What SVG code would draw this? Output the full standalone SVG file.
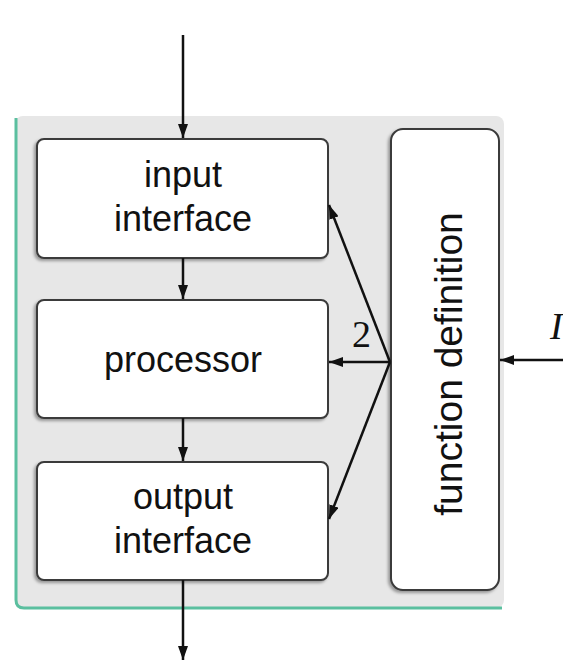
<svg xmlns="http://www.w3.org/2000/svg" width="563" height="662" viewBox="0 0 563 662">
  <defs>
    <marker id="arrow" viewBox="0 0 14 10" refX="14" refY="5" markerWidth="14" markerHeight="10" markerUnits="userSpaceOnUse" orient="auto">
      <path d="M0,0 L14,5 L0,10 Z" fill="#111"/>
    </marker>
    <filter id="shadow" x="-10%" y="-10%" width="120%" height="120%">
      <feDropShadow dx="-2" dy="2" stdDeviation="1.5" flood-color="#000" flood-opacity="0.35"/>
    </filter>
  </defs>
  <style>
    .box { fill: #ffffff; stroke: #3a3a3a; stroke-width: 2; }
    .label { font-family: "Liberation Sans", Arial, sans-serif; font-size: 36px; fill: #111; text-anchor: middle; }
    .conn { stroke: #111; stroke-width: 2.5; fill: none; marker-end: url(#arrow); }
    .num { font-family: "Liberation Serif", "Times New Roman", serif; font-size: 38px; fill: #111; }
  </style>

  <rect width="563" height="662" fill="#ffffff"/>

  <!-- enclosing system panel -->
  <g id="system">
    <rect x="15" y="116" width="489" height="492" rx="8" fill="#e7e7e7"/>
    <path d="M16,118 L16,600 Q16,608 24,608 L502,608" fill="none" stroke="#5bbf9f" stroke-width="3"/>
  </g>

  <g id="input-interface">
    <rect class="box" x="37" y="139" width="291" height="119" rx="7" filter="url(#shadow)"/>
    <text class="label" x="183" y="187">input</text>
    <text class="label" x="183" y="231">interface</text>
  </g>

  <g id="processor">
    <rect class="box" x="37" y="300" width="291" height="118" rx="7" filter="url(#shadow)"/>
    <text class="label" x="183" y="372">processor</text>
  </g>

  <g id="output-interface">
    <rect class="box" x="37" y="462" width="291" height="118" rx="7" filter="url(#shadow)"/>
    <text class="label" x="183" y="509">output</text>
    <text class="label" x="183" y="553">interface</text>
  </g>

  <g id="function-definition">
    <rect class="box" x="391" y="129" width="108" height="461" rx="12" filter="url(#shadow)"/>
    <text class="label" style="font-size:39px" transform="translate(462,364) rotate(-90)">function definition</text>
  </g>

  <g id="connectors">
    <line class="conn" x1="183" y1="35" x2="183" y2="138"/>
    <line class="conn" x1="183" y1="258" x2="183" y2="299"/>
    <line class="conn" x1="183" y1="418" x2="183" y2="461"/>
    <line class="conn" x1="183" y1="580" x2="183" y2="660"/>
    <line class="conn" x1="390" y1="362" x2="329" y2="205"/>
    <line class="conn" x1="390" y1="362" x2="329" y2="362"/>
    <line class="conn" x1="390" y1="362" x2="329" y2="519"/>
    <line class="conn" x1="563" y1="360" x2="500" y2="360"/>
    <text class="num" x="352" y="347">2</text>
    <text class="num" x="550" y="339" font-style="italic">I</text>
  </g>
</svg>
